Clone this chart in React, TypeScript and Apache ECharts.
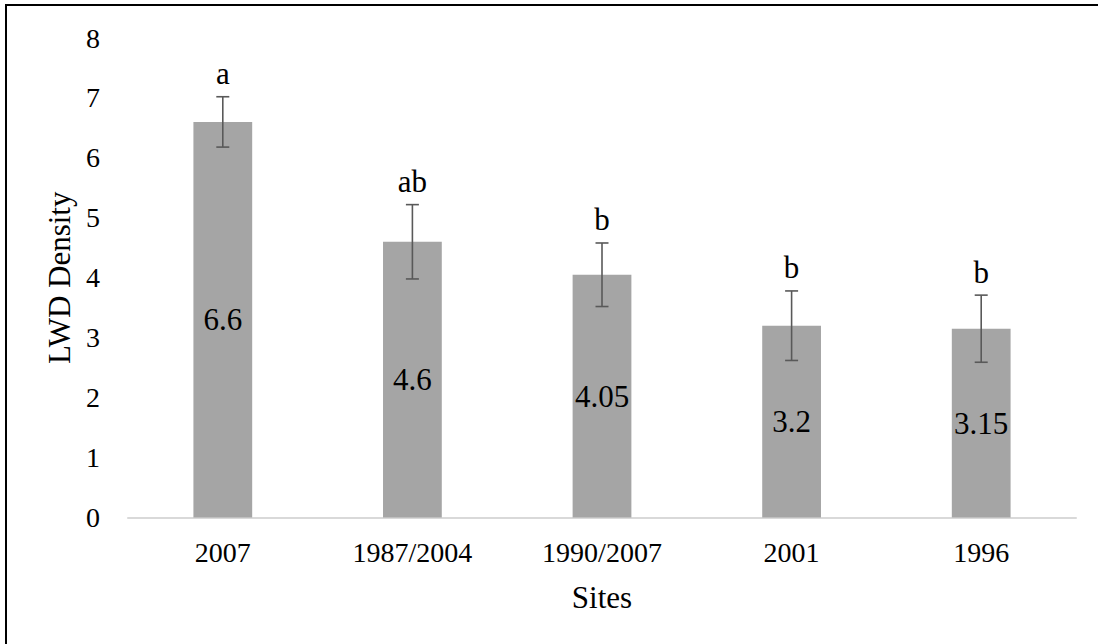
import React, { useEffect, useRef } from "react";
import * as echarts from "echarts";

const sites = ["2007", "1987/2004", "1990/2007", "2001", "1996"];
const density = [6.6, 4.6, 4.05, 3.2, 3.15];
const errors = [0.42, 0.62, 0.53, 0.58, 0.56];
const letters = ["a", "ab", "b", "b", "b"];

const FONT = "Liberation Serif";
const FS_TICK = 28;
const FS = 31;

export default function App() {
  const ref = useRef<HTMLDivElement>(null);
  useEffect(() => {
    const chart = echarts.init(ref.current!, null, { renderer: "svg" });
    chart.setOption({
      animation: false,
      backgroundColor: "#ffffff",
      textStyle: { fontFamily: FONT },
      grid: { left: 128, right: 22, top: 38, bottom: 126.5, containLabel: false },
      xAxis: {
        type: "category",
        data: sites,
        name: "Sites",
        nameLocation: "middle",
        nameGap: 64,
        nameTextStyle: { fontFamily: FONT, fontSize: FS, color: "#000" },
        axisLine: { lineStyle: { color: "#d9d9d9", width: 2 } },
        axisTick: { show: false },
        axisLabel: { fontFamily: FONT, fontSize: FS_TICK, color: "#000", margin: 21 },
      },
      yAxis: {
        type: "value",
        min: 0,
        max: 8,
        interval: 1,
        name: "LWD Density",
        nameLocation: "middle",
        nameGap: 53,
        nameTextStyle: { fontFamily: FONT, fontSize: FS, color: "#000" },
        axisLine: { show: false },
        axisTick: { show: false },
        splitLine: { show: false },
        axisLabel: { fontFamily: FONT, fontSize: FS_TICK, color: "#000", margin: 28 },
      },
      series: [
        {
          type: "bar",
          data: density,
          barWidth: "31%",
          itemStyle: { color: "#a5a5a5" },
          label: {
            show: true,
            position: "inside",
            fontFamily: FONT,
            fontSize: FS,
            color: "#000",
          },
        },
        {
          type: "custom",
          clip: false,
          z: 10,
          data: density.map((v, i) => [i, v, errors[i]]),
          renderItem: (params: any, api: any) => {
            const idx = api.value(0);
            const v = api.value(1);
            const e = api.value(2);
            const top = api.coord([idx, v + e]);
            const bot = api.coord([idx, v - e]);
            const half = 6.5;
            const st = { stroke: "#595959", lineWidth: 1.6 };
            return {
              type: "group",
              children: [
                { type: "line", shape: { x1: top[0], y1: top[1], x2: bot[0], y2: bot[1] }, style: st },
                { type: "line", shape: { x1: top[0] - half, y1: top[1], x2: top[0] + half, y2: top[1] }, style: st },
                { type: "line", shape: { x1: bot[0] - half, y1: bot[1], x2: bot[0] + half, y2: bot[1] }, style: st },
                {
                  type: "text",
                  x: top[0],
                  y: top[1] - 23,
                  style: {
                    text: letters[params.dataIndex],
                    fontFamily: FONT,
                    fontSize: FS,
                    fill: "#000",
                    align: "center",
                    verticalAlign: "middle",
                  },
                },
              ],
            };
          },
        },
      ],
      graphic: [
        { type: "line", shape: { x1: 6, y1: 5, x2: 1098, y2: 5 }, style: { stroke: "#000", lineWidth: 2 } },
        { type: "line", shape: { x1: 6, y1: 4, x2: 6, y2: 644 }, style: { stroke: "#000", lineWidth: 2 } },
      ],
    });
    return () => chart.dispose();
  }, []);
  return (
    <div
      ref={ref}
      style={{ position: "fixed", left: 0, top: 0, width: 1098, height: 644 }}
    />
  );
}
